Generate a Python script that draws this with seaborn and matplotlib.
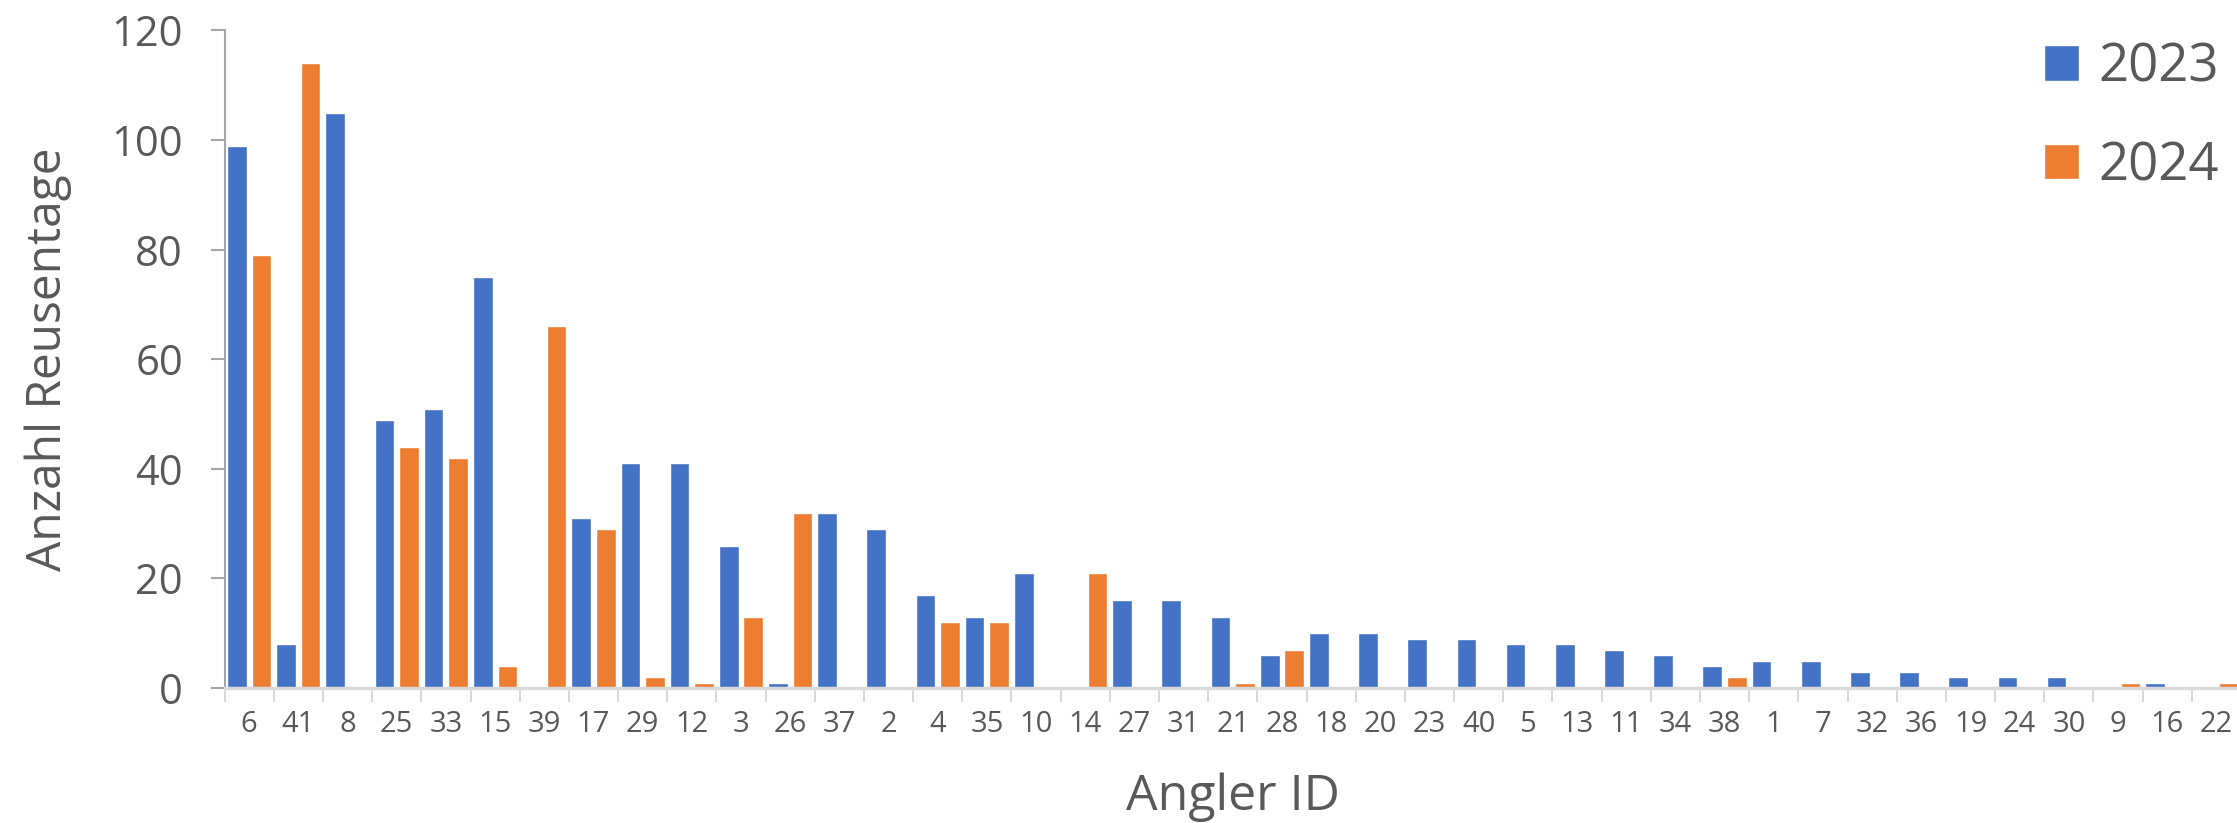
"""Reusentage je Angler, 2023 vs 2024 (grouped bars)."""

import matplotlib

matplotlib.use("Agg")

import matplotlib.pyplot as plt
import numpy as np
import pandas as pd
import seaborn as sns

# Angler IDs in plot order and the number of trap days per year.
ANGLER_IDS = [
    "6", "41", "8", "25", "33", "15", "39", "17", "29", "12", "3", "26", "37", "2",
    "4", "35", "10", "14", "27", "31", "21", "28", "18", "20", "23", "40", "5", "13",
    "11", "34", "38", "1", "7", "32", "36", "19", "24", "30", "9", "16", "22",
]
TAGE_2023 = [
    99, 8, 105, 49, 51, 75, 0, 31, 41, 41, 26, 1, 32, 29,
    17, 13, 21, 0, 16, 16, 13, 6, 10, 10, 9, 9, 8, 8,
    7, 6, 4, 5, 5, 3, 3, 2, 2, 2, 0, 1, 0,
]
TAGE_2024 = [
    79, 114, 0, 44, 42, 4, 66, 29, 2, 1, 13, 32, 0, 0,
    12, 12, 0, 21, 0, 0, 1, 7, 0, 0, 0, 0, 0, 0,
    0, 0, 2, 0, 0, 0, 0, 0, 0, 0, 1, 0, 1,
]
YEARS = ["2023", "2024"]
Y_TICKS = [0, 20, 40, 60, 80, 100, 120]

COLORS = {"2023": "#4472C4", "2024": "#ED7D31"}
TEXT = "#595959"


def main() -> None:
    sns.set_theme(style="white")
    plt.rcParams["font.family"] = ["Open Sans", "DejaVu Sans"]

    df = pd.DataFrame(
        {
            "Angler ID": ANGLER_IDS * 2,
            "Anzahl Reusentage": TAGE_2023 + TAGE_2024,
            "Jahr": [YEARS[0]] * len(ANGLER_IDS) + [YEARS[1]] * len(ANGLER_IDS),
        }
    )

    fig = plt.figure(figsize=(22.37, 8.23), dpi=100)
    ax = fig.add_axes([0.1004, 0.164, 0.9014, 0.799])

    sns.barplot(
        data=df,
        x="Angler ID",
        y="Anzahl Reusentage",
        hue="Jahr",
        order=ANGLER_IDS,
        hue_order=YEARS,
        palette=COLORS,
        saturation=1,
        width=1.0,
        gap=0.2,
        edgecolor="white",
        linewidth=1,
        errorbar=None,
        ax=ax,
    )

    n = len(ANGLER_IDS)
    ax.set_xlim(-0.5, n - 0.5)
    ax.set_ylim(0, 120)
    ax.set_yticks(Y_TICKS)

    # category boundaries carry the x tick marks, labels sit on the centres
    ax.set_xticks(np.arange(-0.5, n, 1), minor=True)
    ax.tick_params(axis="x", which="major", length=0, pad=16,
                   labelsize=21, labelcolor=TEXT)
    ax.tick_params(axis="x", which="minor", length=10, width=1.5,
                   color="#D9D9D9", bottom=True)
    ax.tick_params(axis="y", which="major", length=10, width=1.5,
                   color="#A6A6A6", left=True, pad=20,
                   labelsize=30, labelcolor=TEXT)

    for side in ("top", "right"):
        ax.spines[side].set_visible(False)
    ax.spines["left"].set_color("#A6A6A6")
    ax.spines["left"].set_linewidth(1.5)
    ax.spines["bottom"].set_color("#D9D9D9")
    ax.spines["bottom"].set_linewidth(2.5)

    ax.set_xlabel("Angler ID", fontsize=36, color=TEXT, labelpad=24)
    ax.set_ylabel("Anzahl Reusentage", fontsize=34.5, color=TEXT, labelpad=28)

    handles, labels = ax.get_legend_handles_labels()
    ax.get_legend().remove()
    fig.legend(
        handles,
        labels,
        loc="upper left",
        bbox_to_anchor=(0.902, 0.982),
        bbox_transform=fig.transFigure,
        frameon=False,
        fontsize=38,
        labelcolor=TEXT,
        handlelength=0.66,
        handleheight=0.66,
        handletextpad=0.36,
        labelspacing=0.85,
        borderpad=0,
    )

    fig.savefig("out.png", dpi=100)
    plt.close(fig)


if __name__ == "__main__":
    main()
